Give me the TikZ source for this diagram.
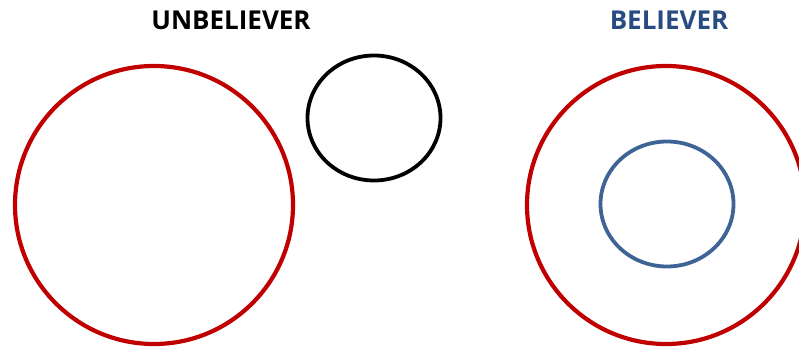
\documentclass[tikz,border=0pt]{standalone}
\usepackage{fontspec}
\setmainfont{Open Sans}
\usetikzlibrary{shapes.geometric}
\definecolor{darkred}{RGB}{192,0,0}
\definecolor{ringblue}{RGB}{62,100,150}
\definecolor{textblue}{RGB}{40,76,130}
\tikzset{
  ring/.style={draw, ellipse, inner sep=0pt, outer sep=0pt},
  bigring/.style={ring, draw=darkred, line width=4.2pt, minimum width=278pt, minimum height=278pt},
  smallring/.style={ring, line width=3.8pt, minimum width=133pt, minimum height=125pt},
  title/.style={font=\bfseries\fontsize{26}{30}\selectfont, inner sep=0pt}
}
\begin{document}
\begin{tikzpicture}[x=1pt,y=-1pt]
\useasboundingbox (0,0) rectangle (799,352);
\node[bigring] (unb) at (154,205) {};
\node[smallring, draw=black] (self) at (374,118) {};
\node[bigring] (bel) at (666,205) {};
\node[smallring, draw=ringblue] (god) at (667,204) {};
\node[title] (t1) at (231,20) {UNBELIEVER};
\node[title, text=textblue] (t2) at (669,20) {BELIEVER};
\end{tikzpicture}
\end{document}
